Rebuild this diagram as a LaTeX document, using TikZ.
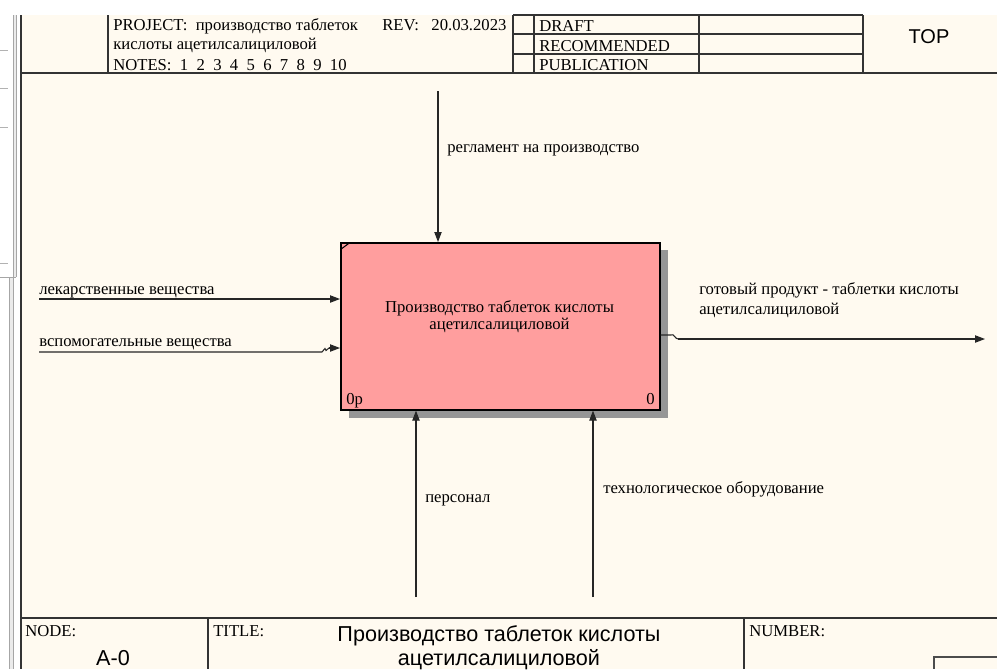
\documentclass[tikz,border=0pt]{standalone}
\usepackage{fontspec}
\setmainfont{Liberation Serif}
\newfontfamily\arialf{Liberation Sans}
\usetikzlibrary{arrows.meta}
\definecolor{cream}{RGB}{255,250,240}
\definecolor{boxpink}{RGB}{255,158,158}
\definecolor{shadowgray}{RGB}{150,150,150}
\definecolor{rulergray}{RGB}{235,235,235}
\begin{document}
\begin{tikzpicture}[x=0.75pt,y=-0.75pt,
  lbl/.style={font=\fontsize{12.5}{14}\selectfont, anchor=base west, inner sep=0pt},
  sanslbl/.style={font=\arialf\fontsize{16.2}{18}\selectfont, anchor=base, inner sep=0pt},
  frameline/.style={draw=black!80, line width=0.8pt},
  arr/.style={draw=black!85, line width=0.8pt, -{Triangle[length=7.5pt,width=5.5pt]}},
  plain/.style={draw=black!85, line width=0.8pt}]
\useasboundingbox (0,0) rectangle (997,669);
\fill[white] (0,0) rectangle (997,669);
% cream drawing area
\fill[cream] (21,15) rectangle (997,669);
% left ruler
\fill[rulergray] (13,15) rectangle (16,277);
\draw[gray!70, line width=0.6pt] (13,15) -- (13,277) (16,15) -- (16,277);
\fill[rulergray] (9,277) rectangle (13,669);
\draw[gray!70, line width=0.6pt] (9,277) -- (9,669) (13,277) -- (13,669);
\draw[gray!70, line width=0.6pt] (0,277) -- (16,277);
\foreach \yy in {50,88,127,263} \draw[gray!60, line width=0.5pt] (0,\yy) -- (8,\yy);
\draw[frameline] (21,15) -- (21,669);
% header
\draw[frameline] (21,73) -- (997,73);
\draw[frameline] (108,15) -- (108,73);
\draw[frameline] (513,15) -- (513,73);
\draw[frameline] (534,15) -- (534,73);
\draw[frameline] (699,15) -- (699,73);
\draw[frameline] (863,15) -- (863,73);
\draw[frameline] (513,15) -- (863,15);
\draw[frameline] (513,34) -- (863,34);
\draw[frameline] (513,54) -- (863,54);
\node[lbl] (proj) at (113,30) {PROJECT:\ \ производство таблеток};
\node[lbl] (rev) at (382,30) {REV:\ \ \ 20.03.2023};
\node[lbl] (proj2) at (113,49.5) {кислоты ацетилсалициловой};
\node[lbl] (notes) at (113,70) {NOTES:\ \ 1\ \ 2\ \ 3\ \ 4\ \ 5\ \ 6\ \ 7\ \ 8\ \ 9\ \ 10};
\node[lbl] (draft) at (539,31.5) {DRAFT};
\node[lbl] (recom) at (539,51) {RECOMMENDED};
\node[lbl] (publ) at (539,70.5) {PUBLICATION};
\node[font=\arialf\fontsize{15}{18}\selectfont, anchor=base, inner sep=0pt] (top) at (929,43) {TOP};
% footer
\draw[frameline] (21,618) -- (997,618);
\draw[frameline] (208,618) -- (208,669);
\draw[frameline] (744,618) -- (744,669);
\draw[draw=black!70, line width=0.8pt] (997,657) -- (934,657) -- (934,669);
\node[lbl] (nodel) at (25,636) {NODE:};
\node[lbl] (titlel) at (213,636) {TITLE:};
\node[lbl] (numl) at (749,636) {NUMBER:};
\node[sanslbl] (a0) at (113,665) {A-0};
\node[sanslbl] (title1) at (499,641) {Производство таблеток кислоты};
\node[sanslbl] (title2) at (499,665) {ацетилсалициловой};
% activity box
\fill[shadowgray] (349,250) rectangle (668,418);
\node[draw=black, line width=1.2pt, fill=boxpink, minimum width=239.25pt, minimum height=125.25pt, inner sep=0pt, anchor=north west] (A0) at (340,242) {};
\draw[line width=0.8pt] (340.5,249.5) -- (350,242.5);
\node[font=\fontsize{12.5}{14}\selectfont, anchor=base, inner sep=0pt] (t1) at (499.5,312) {Производство таблеток кислоты};
\node[font=\fontsize{12.5}{14}\selectfont, anchor=base, inner sep=0pt] (t2) at (499.5,329) {ацетилсалициловой};
\node[lbl] (num0p) at (346,404) {0р};
\node[lbl, anchor=base east] (num0) at (655,404) {0};
% control
\coordinate (c0) at (438,91);
\draw[arr] (c0) -- (c0 |- A0.north);
\node[lbl] (cl) at (447,152) {регламент на производство};
% inputs
\coordinate (i1) at (39,299);
\draw[arr] (i1) -- (i1 -| A0.west);
\node[lbl] (i1l) at (39,294) {лекарственные вещества};
\coordinate (i2) at (39,352);
\coordinate (i2b) at (329,348);
\draw[plain] (i2) -- (322,352) -- (325,348.5) -- (326,350.5) -- (i2b);
\draw[arr] (i2b) -- (i2b -| A0.west);
\node[lbl] (i2l) at (39,346) {вспомогательные вещества};
% output
\coordinate (o0) at (671,335);
\coordinate (o1) at (678,339);
\coordinate (oe) at (985,339);
\draw[plain] (o0 -| A0.east) -- (o0) .. controls (674,333) and (675,339) .. (o1);
\draw[arr] (o1) -- (oe);
\node[lbl] (ol1) at (699,294) {готовый продукт - таблетки кислоты};
\node[lbl] (ol2) at (699,314) {ацетилсалициловой};
% mechanisms
\coordinate (m1) at (416,597);
\draw[arr] (m1) -- (m1 |- A0.south);
\node[lbl] (m1l) at (425,502) {персонал};
\coordinate (m2) at (593,597);
\draw[arr] (m2) -- (m2 |- A0.south);
\node[lbl] (m2l) at (603,493) {технологическое оборудование};
\end{tikzpicture}
\end{document}
